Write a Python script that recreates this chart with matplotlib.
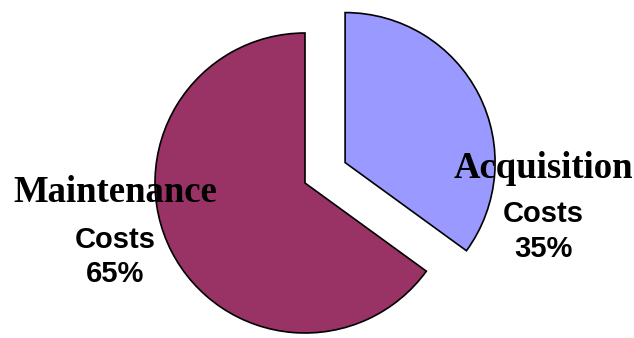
import matplotlib
matplotlib.use("Agg")
import matplotlib.pyplot as plt

categories = ["Acquisition", "Maintenance"]
shares = [35, 65]
colors = ["#9999FF", "#993366"]

W, H = 634, 338
fig = plt.figure(figsize=(W / 100, H / 100), dpi=100)
ax = fig.add_axes([0, 0, 1, 1])

R = 150
ax.pie(shares, colors=colors, startangle=90, counterclock=False,
       radius=R, center=(305, H - 183), explode=[45, 0],
       wedgeprops=dict(edgecolor="black", linewidth=1.2))
ax.set_xlim(0, W)
ax.set_ylim(0, H)
ax.set_aspect("equal")
ax.axis("off")

serif = dict(family="Liberation Serif", weight="bold", ha="center", va="center")
sans = dict(family="Liberation Sans", weight="bold", ha="center", va="center")

ax.text(115, H - 192, "Maintenance", fontsize=26.5, **serif)
ax.text(115, H - 240, "Costs", fontsize=21, **sans)
ax.text(115, H - 274, f"{shares[1]}%", fontsize=21, **sans)

ax.text(543, H - 168, "Acquisition", fontsize=26.5, **serif)
ax.text(543, H - 214, "Costs", fontsize=21, **sans)
ax.text(543, H - 249, f"{shares[0]}%", fontsize=21, **sans)

fig.savefig("out.png", dpi=100)
